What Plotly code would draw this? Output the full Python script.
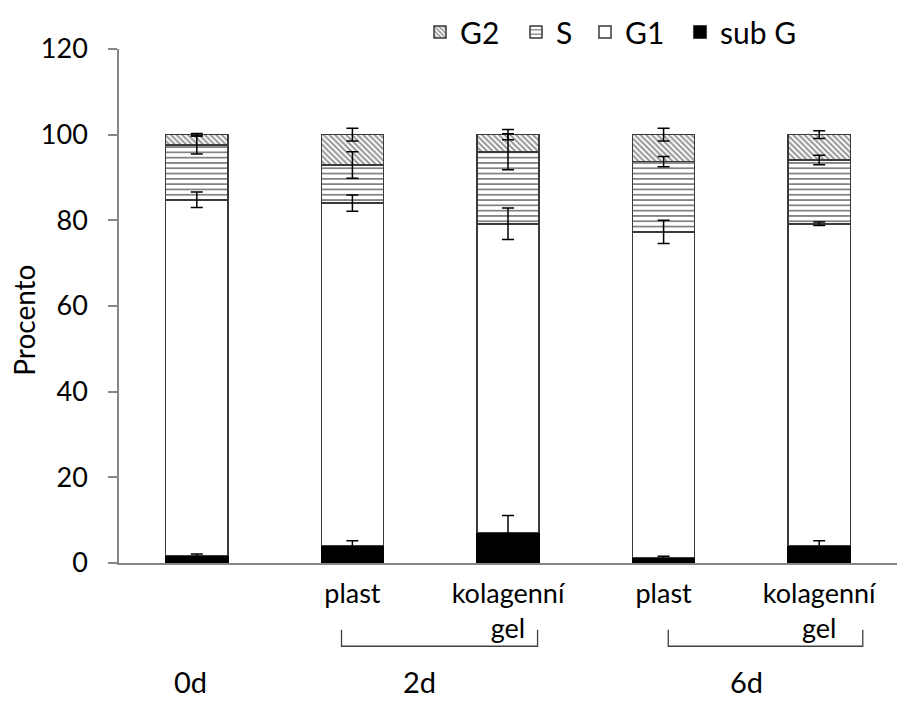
import numpy as np
import plotly.graph_objects as go

# ---- data ----
categories = ["0d", "2d plast", "2d kolagenní gel", "6d plast", "6d kolagenní gel"]
tick_labels = ["", "plast", "kolagenní<br>gel", "plast", "kolagenní<br>gel"]
sub_g = [1.7, 4.1, 7.1, 1.3, 4.1]
g1 = [83.1, 79.9, 72.1, 76.0, 75.1]
s_phase = [12.8, 8.9, 16.8, 16.4, 14.9]
g2 = [2.4, 7.1, 4.0, 6.3, 5.9]
err_sub_g = [0.4, 1.1, 4.0, 0.3, 1.1]
err_g1 = [1.8, 1.9, 3.7, 2.7, 0.4]
err_s = [2.1, 3.1, 4.2, 1.2, 1.1]
err_g2 = [0.3, 1.5, 1.2, 1.5, 0.9]
day_labels = ["0d", "2d", "6d"]
y_ticks = [0, 20, 40, 60, 80, 100, 120]
y_title = "Procento"

FONT = "Lato"
x = np.arange(len(categories))
outline = dict(color="#3a3a3a", width=1.5)

fig = go.Figure()
fig.add_trace(go.Bar(x=x, y=sub_g, name="sub G", width=0.4, legend="legend4",
                     marker=dict(color="black", line=dict(color="black", width=1.5))))
fig.add_trace(go.Bar(x=x, y=g1, name="G1", width=0.4, legend="legend3",
                     marker=dict(color="white", line=outline)))
fig.add_trace(go.Bar(x=x, y=s_phase, name="S", width=0.4, legend="legend2",
                     marker=dict(color="white", line=outline,
                                 pattern=dict(shape="-", size=5.3, solidity=0.25,
                                              fgcolor="#303030", bgcolor="white",
                                              fgopacity=0.8))))
fig.add_trace(go.Bar(x=x, y=g2, name="G2", width=0.4, legend="legend",
                     marker=dict(color="white", line=outline,
                                 pattern=dict(shape="\\", size=4, solidity=0.5,
                                              fgcolor="#2a2a2a", bgcolor="white"))))

# error bars at the cumulative tops of each segment
stack = np.array([sub_g, g1, s_phase, g2])
tops = np.cumsum(stack, axis=0)
errs = [err_sub_g, err_g1, err_s, err_g2]
for top, e in zip(tops, errs):
    fig.add_trace(go.Scatter(x=x, y=top, mode="markers", showlegend=False,
                             hoverinfo="skip",
                             marker=dict(size=2, opacity=0, color="black"),
                             error_y=dict(type="data", array=e, visible=True,
                                          color="black", thickness=1.5, width=6)))

# brackets under the groups
for x0, x1 in [(0.93, 2.19), (3.03, 4.28)]:
    fig.add_shape(type="path", xref="x", yref="paper",
                  path=f"M {x0},-0.130 L {x0},-0.162 L {x1},-0.162 L {x1},-0.130",
                  line=dict(color="#404040", width=1.3))

for lbl, xx in zip(day_labels, [-0.04, 1.43, 3.53]):
    fig.add_annotation(text=lbl, x=xx, y=-0.268, xref="x", yref="paper",
                       showarrow=False, font=dict(family=FONT, size=29, color="black"),
                       xanchor="center", yanchor="bottom")

# y-axis title (placed slightly below the axis middle, as in the reference)
fig.add_annotation(text=y_title, textangle=-90, xref="paper", yref="paper",
                   x=-0.122, y=0.4714, xanchor="center", yanchor="middle",
                   showarrow=False, font=dict(family=FONT, size=28, color="black"))

legend_style = dict(orientation="h", xref="container", yref="container",
                    y=1 - 32 / 702, xanchor="left", yanchor="middle",
                    font=dict(family=FONT, size=30, color="black"),
                    bgcolor="rgba(0,0,0,0)")

fig.update_layout(
    width=899, height=702,
    margin=dict(l=119, r=2, t=49, b=139, autoexpand=False),
    barmode="stack",
    plot_bgcolor="white", paper_bgcolor="white",
    font=dict(family=FONT, size=27, color="black"),
    showlegend=True,
    legend=dict(x=420 / 899, **legend_style),
    legend2=dict(x=516 / 899, **legend_style),
    legend3=dict(x=585 / 899, **legend_style),
    legend4=dict(x=680 / 899, **legend_style),
)
fig.update_xaxes(range=[-0.5, 4.5], tickvals=list(x), ticktext=tick_labels,
                 showline=True, linecolor="#868686", linewidth=1.5,
                 ticks="", showgrid=False, zeroline=False, automargin=False,
                 tickfont=dict(family=FONT, size=27, color="black"),
                 ticklabelstandoff=6)
fig.update_yaxes(range=[0, 120], tickvals=y_ticks,
                 showline=True, linecolor="#868686", linewidth=1.5,
                 ticks="outside", ticklen=9, tickcolor="#868686", tickwidth=1.5,
                 showgrid=False, zeroline=False, automargin=False,
                 tickfont=dict(family=FONT, size=27, color="black"),
                 ticklabelstandoff=15)

fig.write_html("out.html", config={"displayModeBar": False},
               post_script="document.body.style.margin='0px';document.body.style.padding='0px';")
